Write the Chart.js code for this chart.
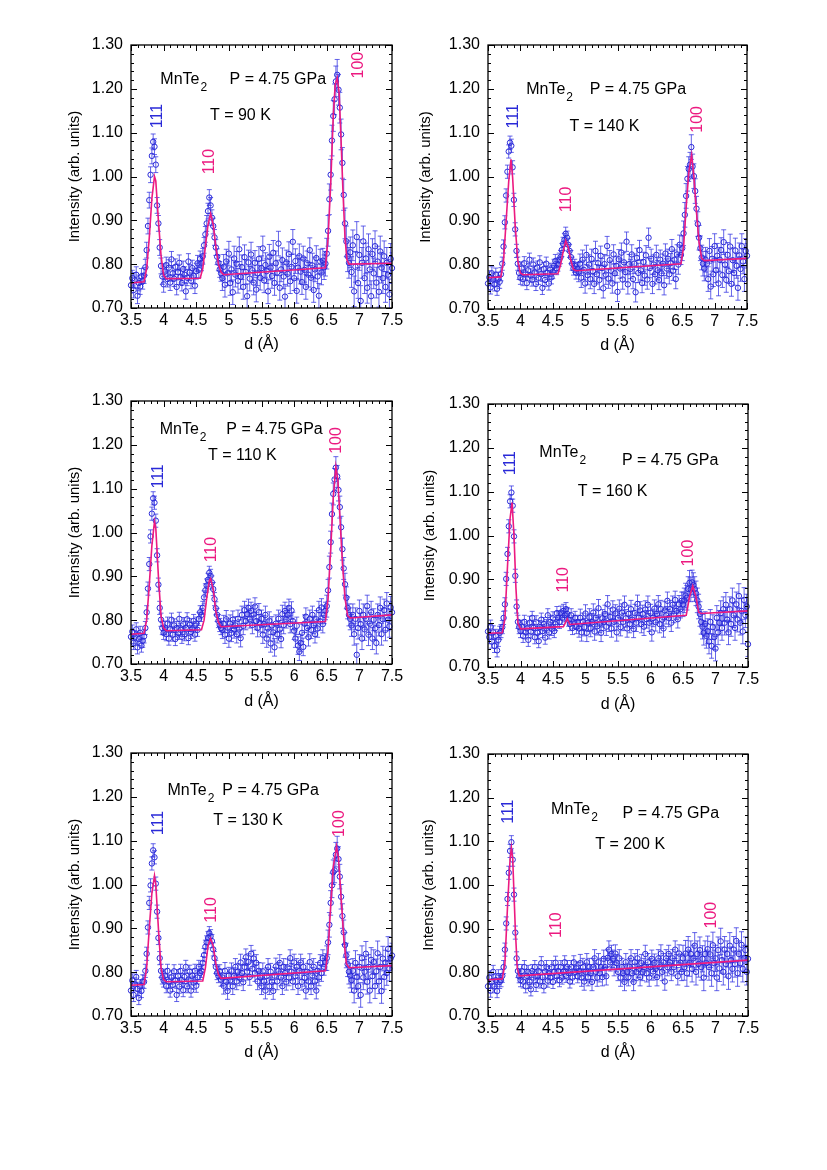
<!DOCTYPE html>
<html>
<head>
<meta charset="utf-8">
<script src="https://cdn.jsdelivr.net/npm/chart.js@4.4.1/dist/chart.umd.min.js"></script>
<style>
  body { margin: 0; background: #fff; }
  #page { position: relative; width: 827px; height: 1170px; background: #fff; }
  #page canvas { position: absolute; }
</style>
</head>
<body>
<div id="page"></div>
<script>
// d grid (Å), shared by every panel
const dGrid = [
  3.50,3.52,3.54,3.56,3.58,3.60,3.62,3.64,3.66,3.68,
  3.70,3.72,3.74,3.76,3.78,3.80,3.82,3.84,3.86,3.88,
  3.90,3.92,3.94,3.96,3.98,4.00,4.02,4.04,4.06,4.08,
  4.10,4.12,4.14,4.16,4.18,4.20,4.22,4.24,4.26,4.28,
  4.30,4.32,4.34,4.36,4.38,4.40,4.42,4.44,4.46,4.48,
  4.50,4.52,4.54,4.56,4.58,4.60,4.62,4.64,4.66,4.68,
  4.70,4.72,4.74,4.76,4.78,4.80,4.82,4.84,4.86,4.88,
  4.90,4.92,4.94,4.96,4.98,5.00,5.02,5.04,5.06,5.08,
  5.10,5.12,5.14,5.16,5.18,5.20,5.22,5.24,5.26,5.28,
  5.30,5.32,5.34,5.36,5.38,5.40,5.42,5.44,5.46,5.48,
  5.50,5.52,5.54,5.56,5.58,5.60,5.62,5.64,5.66,5.68,
  5.70,5.72,5.74,5.76,5.78,5.80,5.82,5.84,5.86,5.88,
  5.90,5.92,5.94,5.96,5.98,6.00,6.02,6.04,6.06,6.08,
  6.10,6.12,6.14,6.16,6.18,6.20,6.22,6.24,6.26,6.28,
  6.30,6.32,6.34,6.36,6.38,6.40,6.42,6.44,6.46,6.48,
  6.50,6.52,6.54,6.56,6.58,6.60,6.62,6.64,6.66,6.68,
  6.70,6.72,6.74,6.76,6.78,6.80,6.82,6.84,6.86,6.88,
  6.90,6.92,6.94,6.96,6.98,7.00,7.02,7.04,7.06,7.08,
  7.10,7.12,7.14,7.16,7.18,7.20,7.22,7.24,7.26,7.28,
  7.30,7.32,7.34,7.36,7.38,7.40,7.42,7.44,7.46,7.48,
  7.50
];

// measured intensity, one value per dGrid point
// rows: 3.50-3.68 | 3.70-4.00 | 4.02-4.56 | 4.58-4.88 | 4.90-6.48 (8 rows) | 6.50-6.86 | 6.88-7.50
const i90 = [
  0.752,0.768,0.741,0.763,0.776,0.728,0.757,0.749,0.772,0.761,
  0.774,0.793,0.832,0.887,0.946,1.004,1.047,1.079,1.068,1.027,0.934,0.893,0.838,0.796,0.772,0.754,
  0.783,0.798,0.766,0.792,0.758,0.811,0.779,0.767,0.794,0.748,0.782,0.803,0.771,0.757,0.789,0.776,0.738,0.769,0.806,0.781,0.762,0.791,0.773,0.751,0.784,0.802,0.787,0.812,
  0.803,0.818,0.843,0.868,0.893,0.921,0.952,0.934,0.906,0.887,0.861,0.838,0.817,0.803,0.788,0.779,
  0.768,0.794,0.753,0.806,0.779,0.824,0.757,0.788,0.736,0.813,
  0.776,0.801,0.762,0.834,0.771,0.793,0.748,0.816,0.782,0.727,
  0.804,0.767,0.822,0.786,0.758,0.803,0.742,0.779,0.812,0.769,
  0.791,0.836,0.763,0.798,0.784,0.738,0.817,0.792,0.773,0.826,
  0.757,0.802,0.781,0.847,0.746,0.788,0.809,0.772,0.726,0.804,
  0.778,0.823,0.761,0.794,0.851,0.768,0.807,0.739,0.792,0.818,
  0.783,0.759,0.813,0.787,0.748,0.802,0.776,0.832,0.769,0.797,
  0.741,0.788,0.814,0.772,0.728,0.806,0.781,0.808,0.793,0.801,
  0.824,0.876,0.948,1.004,1.082,1.138,1.176,1.217,1.232,1.198,1.157,1.096,1.031,0.958,0.893,0.852,0.818,0.803,0.827,
  0.782,0.843,0.738,0.794,0.862,0.757,0.821,0.716,0.803,0.852,0.768,0.813,0.746,0.834,0.788,0.727,
  0.823,0.779,0.841,0.758,0.806,0.737,0.829,0.792,0.768,0.818,0.748,0.803,0.776,0.731,0.812,0.791
];
const i140 = [
  0.758,0.772,0.749,0.781,0.767,0.756,0.778,0.746,0.769,0.762,
  0.779,0.803,0.842,0.897,0.958,1.012,1.058,1.078,1.071,1.022,0.948,0.881,0.832,0.803,0.782,0.771,
  0.792,0.768,0.804,0.781,0.759,0.788,0.812,0.776,0.767,0.801,0.783,0.757,0.794,0.771,0.806,0.779,0.748,0.791,0.766,0.803,0.782,0.758,0.789,0.772,0.784,0.798,0.809,0.793,
  0.801,0.812,0.818,0.834,0.848,0.857,0.871,0.862,0.846,0.832,0.818,0.803,0.792,0.798,0.783,0.791,
  0.784,0.803,0.771,0.812,0.789,0.758,0.823,0.777,0.801,0.768,
  0.814,0.786,0.757,0.832,0.779,0.804,0.766,0.821,0.793,0.747,
  0.802,0.778,0.843,0.769,0.811,0.787,0.758,0.824,0.781,0.798,
  0.739,0.813,0.792,0.828,0.767,0.806,0.784,0.853,0.756,0.802,
  0.791,0.824,0.768,0.803,0.738,0.816,0.782,0.834,0.788,0.759,
  0.807,0.776,0.822,0.767,0.862,0.793,0.814,0.757,0.801,0.779,
  0.823,0.788,0.766,0.812,0.781,0.803,0.754,0.826,0.792,0.814,
  0.779,0.804,0.836,0.787,0.812,0.768,0.824,0.801,0.846,0.823,
  0.838,0.872,0.914,0.957,0.996,1.018,1.028,1.068,1.024,1.002,0.968,0.928,0.893,0.862,0.838,0.817,0.803,0.792,0.812,
  0.803,0.768,0.832,0.751,0.814,0.779,0.843,0.788,0.821,0.758,0.812,0.834,0.777,0.852,0.801,0.766,
  0.823,0.786,0.842,0.757,0.811,0.782,0.833,0.798,0.748,0.822,0.791,0.843,0.808,0.768,0.832,0.821
];
const i110 = [
  0.762,0.774,0.748,0.761,0.779,0.738,0.757,0.771,0.742,0.753,
  0.763,0.782,0.818,0.872,0.928,0.991,1.043,1.078,1.068,1.027,0.948,0.881,0.828,0.801,0.782,0.771,
  0.783,0.768,0.792,0.758,0.779,0.801,0.767,0.788,0.757,0.782,0.771,0.803,0.778,0.762,0.791,0.768,0.783,0.802,0.759,0.789,0.773,0.781,0.798,0.767,0.792,0.778,0.803,0.818,
  0.812,0.828,0.852,0.868,0.879,0.892,0.908,0.901,0.886,0.871,0.848,0.827,0.812,0.798,0.789,0.782,
  0.778,0.791,0.767,0.802,0.783,0.758,0.792,0.771,0.801,0.779,
  0.788,0.768,0.803,0.781,0.759,0.812,0.787,0.823,0.798,0.814,
  0.828,0.802,0.821,0.789,0.813,0.831,0.798,0.782,0.818,0.793,
  0.803,0.767,0.791,0.812,0.758,0.781,0.799,0.747,0.788,0.772,
  0.738,0.792,0.768,0.803,0.779,0.757,0.814,0.789,0.821,0.802,
  0.812,0.828,0.791,0.822,0.798,0.776,0.758,0.787,0.742,0.728,
  0.748,0.771,0.739,0.792,0.808,0.782,0.761,0.803,0.778,0.812,
  0.789,0.768,0.802,0.781,0.823,0.797,0.829,0.791,0.812,0.821,
  0.832,0.868,0.921,0.978,1.042,1.088,1.121,1.148,1.128,1.097,1.058,1.012,0.962,0.918,0.882,0.851,0.828,0.812,0.803,
  0.788,0.812,0.768,0.803,0.721,0.782,0.821,0.791,0.758,0.812,0.779,0.803,0.832,0.767,0.792,0.818,
  0.758,0.801,0.781,0.748,0.812,0.789,0.828,0.768,0.802,0.823,0.778,0.838,0.801,0.786,0.829,0.818
];
const i160 = [
  0.781,0.768,0.792,0.758,0.779,0.748,0.771,0.738,0.762,0.778,
  0.782,0.791,0.812,0.843,0.901,0.958,1.021,1.078,1.098,1.068,0.998,0.908,0.838,0.803,0.791,0.782,
  0.792,0.771,0.803,0.779,0.788,0.762,0.801,0.781,0.812,0.789,0.768,0.802,0.778,0.759,0.791,0.808,0.782,0.798,0.767,0.793,0.818,0.779,0.803,0.787,0.811,0.782,0.798,0.823,
  0.812,0.803,0.824,0.812,0.828,0.818,0.832,0.821,0.808,0.798,0.818,0.789,0.802,0.812,0.791,0.803,
  0.788,0.812,0.779,0.803,0.791,0.822,0.778,0.801,0.813,0.789,
  0.802,0.824,0.781,0.812,0.793,0.834,0.799,0.778,0.811,0.803,
  0.821,0.792,0.843,0.801,0.814,0.788,0.831,0.803,0.822,0.779,
  0.812,0.833,0.791,0.824,0.803,0.842,0.811,0.788,0.821,0.798,
  0.832,0.808,0.787,0.823,0.801,0.844,0.812,0.829,0.798,0.821,
  0.792,0.831,0.809,0.842,0.801,0.823,0.779,0.812,0.833,0.802,
  0.821,0.843,0.798,0.832,0.808,0.788,0.829,0.818,0.851,0.812,
  0.832,0.801,0.842,0.821,0.853,0.828,0.809,0.843,0.832,0.851,
  0.843,0.852,0.863,0.858,0.878,0.892,0.877,0.893,0.887,0.878,0.868,0.852,0.838,0.821,0.803,0.792,0.778,0.798,0.771,
  0.782,0.758,0.803,0.748,0.791,0.768,0.742,0.812,0.779,0.801,0.823,0.789,0.832,0.801,0.842,0.808,
  0.779,0.832,0.798,0.852,0.818,0.789,0.843,0.808,0.862,0.801,0.828,0.781,0.853,0.818,0.838,0.752
];
const i130 = [
  0.758,0.781,0.748,0.772,0.789,0.762,0.741,0.768,0.757,0.779,
  0.778,0.803,0.842,0.902,0.958,0.998,1.048,1.078,1.062,1.002,0.938,0.878,0.832,0.803,0.788,0.781,
  0.792,0.768,0.803,0.779,0.758,0.788,0.771,0.802,0.781,0.748,0.791,0.767,0.803,0.782,0.759,0.789,0.812,0.768,0.783,0.801,0.758,0.792,0.776,0.803,0.769,0.788,0.812,0.798,
  0.803,0.821,0.839,0.858,0.868,0.878,0.889,0.882,0.871,0.852,0.832,0.812,0.798,0.791,0.802,0.783,
  0.788,0.769,0.803,0.778,0.757,0.792,0.781,0.802,0.768,0.791,
  0.812,0.779,0.801,0.788,0.822,0.798,0.777,0.812,0.834,0.801,
  0.823,0.789,0.842,0.808,0.831,0.798,0.821,0.779,0.803,0.788,
  0.768,0.802,0.779,0.758,0.791,0.812,0.768,0.801,0.778,0.757,
  0.792,0.813,0.779,0.803,0.821,0.788,0.768,0.812,0.798,0.778,
  0.811,0.788,0.832,0.801,0.779,0.822,0.791,0.812,0.768,0.803,
  0.822,0.778,0.812,0.787,0.758,0.801,0.779,0.823,0.768,0.792,
  0.812,0.779,0.758,0.803,0.788,0.821,0.798,0.832,0.812,0.823,
  0.832,0.868,0.908,0.958,0.998,1.028,1.032,1.068,1.082,1.058,1.018,0.972,0.928,0.891,0.862,0.838,0.818,0.801,0.792,
  0.782,0.803,0.758,0.821,0.789,0.768,0.812,0.748,0.832,0.788,0.801,0.842,0.778,0.812,0.758,0.828,
  0.791,0.823,0.768,0.802,0.843,0.779,0.812,0.757,0.831,0.789,0.822,0.798,0.853,0.808,0.832,0.838
];
const i200 = [
  0.768,0.788,0.758,0.779,0.801,0.768,0.782,0.757,0.791,0.778,
  0.782,0.792,0.812,0.852,0.912,0.968,1.028,1.078,1.098,1.058,0.978,0.891,0.832,0.803,0.791,0.782,
  0.803,0.779,0.812,0.768,0.792,0.801,0.778,0.761,0.803,0.788,0.812,0.771,0.791,0.803,0.779,0.821,0.789,0.768,0.802,0.812,0.781,0.798,0.788,0.812,0.778,0.801,0.822,0.791,
  0.803,0.782,0.812,0.788,0.801,0.823,0.792,0.812,0.798,0.779,0.812,0.788,0.823,0.801,0.809,0.791,
  0.803,0.821,0.788,0.812,0.779,0.801,0.823,0.789,0.812,0.798,
  0.778,0.812,0.832,0.801,0.788,0.823,0.798,0.812,0.789,0.831,
  0.812,0.791,0.833,0.852,0.823,0.842,0.831,0.812,0.843,0.821,
  0.801,0.832,0.788,0.812,0.798,0.778,0.823,0.801,0.789,0.812,
  0.832,0.798,0.778,0.823,0.801,0.832,0.808,0.789,0.821,0.801,
  0.812,0.842,0.798,0.823,0.788,0.812,0.831,0.802,0.822,0.808,
  0.789,0.832,0.812,0.843,0.801,0.823,0.779,0.832,0.812,0.842,
  0.823,0.801,0.832,0.812,0.852,0.821,0.791,0.843,0.822,0.801,
  0.832,0.812,0.843,0.798,0.852,0.821,0.842,0.808,0.832,0.861,0.801,0.842,0.819,0.851,0.812,0.831,0.788,0.842,0.821,
  0.853,0.812,0.841,0.798,0.862,0.821,0.832,0.788,0.851,0.809,0.871,0.828,0.801,0.852,0.819,0.842,
  0.791,0.861,0.828,0.808,0.852,0.819,0.872,0.798,0.842,0.821,0.863,0.808,0.832,0.851,0.801,0.831
];

// error bar half-widths per panel for d < 4.9, 4.9-6.5, > 6.5
const errZones = [4.9, 6.5];
const err90 = [0.018, 0.028, 0.035];
const err140 = [0.015, 0.022, 0.028];
const err110 = [0.015, 0.020, 0.025];
const err160 = [0.015, 0.020, 0.028];
const err130 = [0.015, 0.019, 0.028];
const err200 = [0.015, 0.020, 0.030];

// fitted curves (d, intensity)
const fit90D = [3.5,3.70,3.74,3.78,3.82,3.86,3.88,3.92,3.96,4.00,4.04,4.56,4.60,4.64,4.68,4.72,4.76,4.80,4.84,4.88,4.92,6.48,6.52,6.56,6.60,6.63,6.66,6.69,6.72,6.75,6.78,6.81,6.84,7.5];
const fit90I = [0.757,0.760,0.79,0.86,0.95,1.00,0.99,0.90,0.82,0.775,0.767,0.768,0.79,0.84,0.89,0.915,0.89,0.84,0.80,0.782,0.776,0.792,0.86,0.98,1.14,1.21,1.225,1.19,1.08,0.96,0.86,0.81,0.800,0.802];
const fit140D = [3.5,3.70,3.74,3.78,3.82,3.855,3.88,3.92,3.96,4.00,4.04,4.58,4.62,4.66,4.70,4.74,4.78,4.82,4.86,6.48,6.52,6.56,6.60,6.645,6.68,6.72,6.76,6.80,6.84,7.5];
const fit140I = [0.771,0.773,0.81,0.90,0.99,1.04,1.00,0.89,0.81,0.782,0.778,0.780,0.80,0.83,0.855,0.84,0.81,0.79,0.787,0.803,0.84,0.93,1.01,1.05,1.00,0.92,0.85,0.815,0.810,0.815];
const fit110D = [3.5,3.70,3.74,3.78,3.82,3.86,3.88,3.92,3.96,4.00,4.04,4.58,4.62,4.66,4.70,4.72,4.76,4.80,4.84,4.88,6.48,6.52,6.56,6.60,6.64,6.67,6.70,6.74,6.78,6.82,6.86,7.5];
const fit110I = [0.768,0.770,0.80,0.88,0.97,1.025,1.01,0.90,0.81,0.782,0.776,0.778,0.80,0.85,0.89,0.895,0.87,0.82,0.795,0.785,0.797,0.85,0.96,1.08,1.15,1.12,1.04,0.93,0.85,0.81,0.805,0.812];
const fit160D = [3.5,3.72,3.76,3.80,3.84,3.87,3.90,3.93,3.96,4.00,4.66,4.72,4.76,6.55,6.60,6.65,6.70,6.74,6.78,7.5];
const fit160I = [0.777,0.778,0.81,0.93,1.04,1.075,1.00,0.88,0.80,0.787,0.792,0.81,0.797,0.818,0.86,0.885,0.86,0.825,0.822,0.828];
const fit130D = [3.5,3.70,3.74,3.78,3.82,3.86,3.88,3.92,3.96,4.00,4.04,4.60,4.64,4.68,4.72,4.76,4.80,4.84,4.88,6.48,6.52,6.56,6.60,6.65,6.68,6.72,6.76,6.80,6.84,7.5];
const fit130I = [0.770,0.772,0.81,0.90,0.98,1.02,1.00,0.90,0.81,0.783,0.778,0.780,0.81,0.86,0.877,0.86,0.82,0.795,0.786,0.803,0.85,0.95,1.04,1.087,1.06,0.97,0.88,0.82,0.810,0.815];
const fit200D = [3.5,3.72,3.76,3.80,3.84,3.86,3.88,3.92,3.95,3.98,7.5];
const fit200I = [0.783,0.785,0.82,0.95,1.06,1.085,1.06,0.90,0.81,0.792,0.828];

const temps = ['90 K', '140 K', '110 K', '160 K', '130 K', '200 K'];
const pressure = 'P = 4.75 GPa';
const xTickValues = [3.5, 4, 4.5, 5, 5.5, 6, 6.5, 7, 7.5];
const yTickValues = [0.70, 0.80, 0.90, 1.00, 1.10, 1.20, 1.30];

const FONT = '"Liberation Sans", Arial, Helvetica, sans-serif';
const BLUE = '#2a2ad8';
const PINK = '#ec1a80';

// page layout: plot box (l,t,r,b), y-axis box width, x-axis box height,
// and text anchors in data coordinates
const panels = [
  { I: i90, err: err90, fD: fit90D, fI: fit90I, l: 131, t: 45, r: 392, b: 308, W: 65, H: 48,
    pos: { mn: [3.95, 1.222], p: [5.01, 1.222], t: [4.71, 1.138], h111: [3.91, 1.138], h110: [4.70, 1.034], h100: [6.99, 1.254] } },
  { I: i140, err: err140, fD: fit140D, fI: fit140I, l: 488, t: 45, r: 747, b: 309, W: 71, H: 48,
    pos: { mn: [4.09, 1.199], p: [5.07, 1.199], t: [4.76, 1.114], h111: [3.90, 1.138], h110: [4.71, 0.949], h100: [6.73, 1.131] } },
  { I: i110, err: err110, fD: fit110D, fI: fit110I, l: 131, t: 401, r: 392, b: 664, W: 65, H: 49,
    pos: { mn: [3.94, 1.234], p: [4.96, 1.234], t: [4.68, 1.175], h111: [3.92, 1.128], h110: [4.73, 0.961], h100: [6.65, 1.21] } },
  { I: i160, err: err160, fD: fit160D, fI: fit160I, l: 488, t: 404, r: 748, b: 667, W: 67, H: 49,
    pos: { mn: [4.29, 1.188], p: [5.56, 1.172], t: [4.88, 1.10], h111: [3.85, 1.165], h110: [4.67, 0.899], h100: [6.59, 0.96] } },
  { I: i130, err: err130, fD: fit130D, fI: fit130I, l: 131, t: 753, r: 392, b: 1016, W: 65, H: 48,
    pos: { mn: [4.06, 1.215], p: [4.90, 1.215], t: [4.76, 1.146], h111: [3.92, 1.14], h110: [4.73, 0.942], h100: [6.69, 1.139] } },
  { I: i200, err: err200, fD: fit200D, fI: fit200I, l: 488, t: 754, r: 748, b: 1016, W: 68, H: 48,
    pos: { mn: [4.47, 1.172], p: [5.57, 1.164], t: [5.15, 1.092], h111: [3.82, 1.168], h110: [4.55, 0.908], h100: [6.94, 0.931] } }
];

// error bars with caps, drawn under the circles
const errorBars = {
  id: 'errorBars',
  beforeDatasetsDraw(chart) {
    const { ctx, chartArea: a, scales: { x, y } } = chart;
    const pts = chart.data.datasets[1].data;
    ctx.save();
    ctx.beginPath();
    ctx.rect(a.left, a.top, a.right - a.left, a.bottom - a.top);
    ctx.clip();
    ctx.strokeStyle = 'rgba(50,50,225,0.75)';
    ctx.lineWidth = 1;
    ctx.beginPath();
    pts.forEach(p => {
      const px = x.getPixelForValue(p.x);
      const hi = y.getPixelForValue(p.y + p.e);
      const lo = y.getPixelForValue(p.y - p.e);
      ctx.moveTo(px, hi); ctx.lineTo(px, lo);
      ctx.moveTo(px - 2.5, hi); ctx.lineTo(px + 2.5, hi);
      ctx.moveTo(px - 2.5, lo); ctx.lineTo(px + 2.5, lo);
    });
    ctx.stroke();
    ctx.restore();
  }
};

// frame with inward major/minor ticks on all four sides
function tickMarks(ctx, a, scale, values, nMinor, horizontal) {
  for (let k = 0; k < values.length; k++) {
    const last = k === values.length - 1;
    for (let s = 0; s < (last ? 1 : nMinor); s++) {
      const v = s === 0 ? values[k] : values[k] + (values[k + 1] - values[k]) * s / nMinor;
      const len = s === 0 ? 6 : 3;
      const p = Math.round(scale.getPixelForValue(v)) + 0.5;
      if (horizontal) {
        ctx.moveTo(p, a.bottom); ctx.lineTo(p, a.bottom - len);
        ctx.moveTo(p, a.top); ctx.lineTo(p, a.top + len);
      } else {
        ctx.moveTo(a.left, p); ctx.lineTo(a.left + len, p);
        ctx.moveTo(a.right, p); ctx.lineTo(a.right - len, p);
      }
    }
  }
}

const frame = {
  id: 'frame',
  afterDatasetsDraw(chart) {
    const { ctx, chartArea: a, scales: { x, y } } = chart;
    ctx.save();
    ctx.strokeStyle = '#000';
    ctx.lineWidth = 1.3;
    ctx.strokeRect(a.left, a.top, a.right - a.left, a.bottom - a.top);
    ctx.lineWidth = 1;
    ctx.beginPath();
    tickMarks(ctx, a, x, xTickValues, 5, true);
    tickMarks(ctx, a, y, yTickValues, 5, false);
    ctx.stroke();
    ctx.restore();
  }
};

// sample name, pressure, temperature and peak indices
const notes = {
  id: 'notes',
  afterDraw(chart, args, opts) {
    const { ctx, scales: { x, y } } = chart;
    const L = opts.pos;
    const X = v => x.getPixelForValue(v);
    const Y = v => y.getPixelForValue(v);
    ctx.save();
    ctx.fillStyle = '#000';
    ctx.textBaseline = 'middle';
    ctx.textAlign = 'left';
    ctx.font = '16px ' + FONT;
    ctx.fillText('MnTe', X(L.mn[0]), Y(L.mn[1]));
    const w = ctx.measureText('MnTe').width;
    ctx.font = '12px ' + FONT;
    ctx.fillText('2', X(L.mn[0]) + w + 1, Y(L.mn[1]) + 8);
    ctx.font = '16px ' + FONT;
    ctx.fillText(pressure, X(L.p[0]), Y(L.p[1]));
    ctx.fillText('T = ' + opts.temp, X(L.t[0]), Y(L.t[1]));
    [['111', L.h111, BLUE], ['110', L.h110, PINK], ['100', L.h100, PINK]].forEach(([txt, p, col]) => {
      ctx.save();
      ctx.translate(X(p[0]), Y(p[1]));
      ctx.rotate(-Math.PI / 2);
      ctx.textAlign = 'center';
      ctx.fillStyle = col;
      ctx.fillText(txt, 0, 0);
      ctx.restore();
    });
    ctx.restore();
  }
};

function errorFor(errs, d) {
  if (d < errZones[0]) return errs[0];
  if (d < errZones[1]) return errs[1];
  return errs[2];
}

const page = document.getElementById('page');

panels.forEach((P, idx) => {
  if (P.I.length !== dGrid.length) console.warn('panel ' + idx + ' has ' + P.I.length + ' points');
  const n = Math.min(P.I.length, dGrid.length);
  const pts = [];
  for (let i = 0; i < n; i++) pts.push({ x: dGrid[i], y: P.I[i], e: errorFor(P.err, dGrid[i]) });
  const fit = P.fD.map((d, i) => ({ x: d, y: P.fI[i] }));

  const cv = document.createElement('canvas');
  cv.width = P.W + (P.r - P.l) + 15;
  cv.height = 15 + (P.b - P.t) + P.H;
  cv.style.left = (P.l - P.W) + 'px';
  cv.style.top = (P.t - 15) + 'px';
  page.appendChild(cv);

  new Chart(cv, {
    type: 'scatter',
    data: {
      datasets: [
        { type: 'line', data: fit, borderColor: PINK, borderWidth: 1.6, pointRadius: 0,
          fill: false, tension: 0, order: 0 },
        { data: pts, pointStyle: 'circle', pointRadius: 2.7, borderWidth: 1,
          borderColor: BLUE, backgroundColor: 'rgba(0,0,0,0)', order: 1 }
      ]
    },
    options: {
      responsive: false,
      animation: false,
      events: [],
      clip: false,
      layout: { padding: { left: 0, top: 15, right: 15, bottom: 0 } },
      plugins: {
        legend: { display: false },
        tooltip: { enabled: false },
        notes: { pos: P.pos, temp: temps[idx] }
      },
      scales: {
        x: {
          type: 'linear', min: 3.5, max: 7.5,
          grid: { display: false, drawTicks: false },
          border: { display: false },
          afterBuildTicks: s => { s.ticks = xTickValues.map(v => ({ value: v })); },
          afterFit: s => { s.height = P.H; s.paddingLeft = 0; s.paddingRight = 0; },
          ticks: { color: '#000', font: { family: FONT, size: 16 }, padding: 3,
                   maxRotation: 0, autoSkip: false, callback: v => String(v) },
          title: { display: true, text: 'd (Å)', color: '#000',
                   font: { family: FONT, size: 16 }, padding: { top: 0, bottom: 2 } }
        },
        y: {
          type: 'linear', min: 0.70, max: 1.30,
          grid: { display: false, drawTicks: false },
          border: { display: false },
          afterBuildTicks: s => { s.ticks = yTickValues.map(v => ({ value: v })); },
          afterFit: s => { s.width = P.W; s.paddingTop = 0; s.paddingBottom = 0; },
          ticks: { color: '#000', font: { family: FONT, size: 16 }, padding: 8,
                   autoSkip: false, callback: v => v.toFixed(2) },
          title: { display: true, text: 'Intensity (arb. units)', color: '#000',
                   font: { family: FONT, size: 15 }, padding: { top: 0, bottom: 0 } }
        }
      }
    },
    plugins: [errorBars, frame, notes]
  });
});
</script>
</body>
</html>
